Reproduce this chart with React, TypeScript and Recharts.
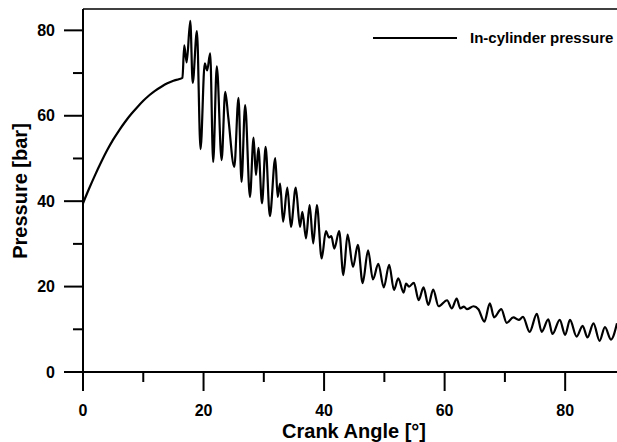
import React from 'react';
import { LineChart, Line, XAxis, YAxis, Legend, ReferenceLine, Label } from 'recharts';

const crankAngle = [
  0, 1, 2, 3, 4, 5, 6, 7, 8, 9, 10, 11, 12, 13, 14, 15, 16, 16.5,
  16.8, 17.2, 17.8, 18.2, 18.9, 19.5, 20.2, 20.6, 21.1, 21.6, 22.2, 23.0, 23.6, 24.1, 25.1, 25.8,
  26.3, 26.9, 27.7, 28.3, 28.7, 29.1, 29.7, 30.3, 31.0, 31.9, 32.3, 32.7, 33.2, 33.9, 34.5, 35.3,
  36.0, 36.4, 37.0, 37.6, 38.2, 38.8, 39.6, 40.3, 40.8, 41.2, 41.7, 42.5, 43.2, 43.9, 44.8, 45.6,
  46.4, 47.3, 48.1, 49.0, 49.9, 50.8, 51.6, 52.3, 53.2, 53.6, 54.1, 54.9, 55.7, 56.5, 57.3, 58.1,
  59.0, 60.4, 61.2, 62.0, 62.6, 63.2, 63.7, 64.8, 65.6, 66.6, 67.5, 68.2, 69.4, 70.3, 71.4, 72.3,
  73.0, 74.1, 75.3, 76.1, 77.2, 77.9, 79.1, 80.0, 80.8, 81.9, 82.9, 83.7, 84.7, 85.7, 86.6, 87.6, 88.6,
];

const pressure = [
  39.5, 42.9, 46.1, 49.1, 51.9, 54.4, 56.6, 58.6, 60.4, 62.0, 63.5, 64.8, 65.9, 66.8, 67.6, 68.2, 68.6, 68.9,
  76.5, 72.5, 82.2, 67.7, 79.8, 52.2, 72.3, 70.6, 74.6, 49.2, 71.6, 49.6, 65.6, 59.7, 48.0, 64.2,
  44.5, 62.5, 41.0, 54.9, 46.1, 52.5, 39.5, 52.7, 36.5, 50.1, 41.0, 44.1, 35.2, 43.2, 34.0, 43.2,
  34.0, 37.5, 31.3, 39.1, 30.1, 39.1, 26.6, 33.0, 31.5, 31.8, 28.9, 33.0, 22.7, 32.2, 24.6, 29.8,
  20.8, 28.5, 21.7, 25.3, 19.8, 25.1, 19.2, 21.9, 18.6, 20.7, 20.0, 20.9, 16.8, 19.8, 15.7, 19.3,
  15.4, 16.8, 14.9, 17.2, 14.9, 15.3, 14.7, 15.4, 14.7, 11.8, 16.1, 12.8, 14.7, 11.5, 12.8, 12.2,
  12.9, 9.4, 13.6, 9.4, 12.3, 8.9, 12.2, 8.7, 12.2, 8.3, 10.8, 8.1, 11.4, 7.3, 10.5, 7.6, 11.4,
];

const xTicks = [0, 10, 20, 30, 40, 50, 60, 70, 80];
const xMajor = [0, 20, 40, 60, 80];
const yTicks = [0, 10, 20, 30, 40, 50, 60, 70, 80];
const yMajor = [0, 20, 40, 60, 80];

const seriesName = 'In-cylinder pressure';
const xTitle = 'Crank Angle [°]';
const yTitle = 'Pressure [bar]';

const data = crankAngle.map((a, i) => ({ angle: a, p: pressure[i] }));

const FONT = '"Liberation Sans", Arial, Helvetica, sans-serif';

const XTick = (props: any) => {
  const { x, y, payload } = props;
  const major = xMajor.includes(payload.value);
  return (
    <g>
      <line x1={x} x2={x} y1={y} y2={y + (major ? 19 : 10)} stroke="#000" strokeWidth={2} />
      {major && (
        <text x={x} y={y + 38} textAnchor="middle" dominantBaseline="central" fontFamily={FONT} fontWeight="bold" fontSize={16} fill="#000">
          {payload.value}
        </text>
      )}
    </g>
  );
};

const YTick = (props: any) => {
  const { x, y, payload } = props;
  const major = yMajor.includes(payload.value);
  return (
    <g>
      <line x1={x} x2={x - (major ? 19 : 10)} y1={y} y2={y} stroke="#000" strokeWidth={2} />
      {major && (
        <text x={x - 28} y={y} textAnchor="end" dominantBaseline="central" fontFamily={FONT} fontWeight="bold" fontSize={16} fill="#000">
          {payload.value}
        </text>
      )}
    </g>
  );
};

const LegendContent = (props: any) => {
  const item = props.payload && props.payload[0];
  return (
    <div style={{ display: 'flex', alignItems: 'center', fontFamily: FONT, fontWeight: 'bold', fontSize: 15, color: '#000', whiteSpace: 'nowrap' }}>
      <span style={{ display: 'inline-block', width: 84, height: 2, background: item ? item.color : '#000' }} />
      <span style={{ marginLeft: 13 }}>{item ? item.value : seriesName}</span>
    </div>
  );
};

export default function App() {
  return (
    <div style={{ position: 'absolute', left: 0, top: 0 }}>
      <LineChart width={617} height={442} data={data} margin={{ top: 9, right: 0, bottom: 0, left: 0 }}>
        <XAxis
          dataKey="angle"
          type="number"
          domain={[0, 88.6]}
          allowDataOverflow
          ticks={xTicks}
          interval={0}
          tickSize={0}
          tickMargin={0}
          tick={<XTick />}
          tickLine={false}
          axisLine={{ stroke: '#000', strokeWidth: 2 }}
          height={70}
        >
          <Label
            content={(p: any) => {
              const vb = p.viewBox || { x: 83, y: 372, width: 534, height: 70 };
              return (
                <text x={vb.x + vb.width / 2 + 4} y={vb.y + 66} textAnchor="middle" fontFamily={FONT} fontWeight="bold" fontSize={20} fill="#000">
                  {xTitle}
                </text>
              );
            }}
          />
        </XAxis>
        <YAxis
          type="number"
          domain={[0, 85]}
          allowDataOverflow
          ticks={yTicks}
          interval={0}
          tickSize={0}
          tickMargin={0}
          tick={<YTick />}
          tickLine={false}
          axisLine={{ stroke: '#000', strokeWidth: 2 }}
          width={83}
        >
          <Label
            content={(p: any) => {
              const vb = p.viewBox || { x: 0, y: 9, width: 83, height: 363 };
              const cy = vb.y + vb.height / 2 + 0.5;
              return (
                <text x={27} y={cy} transform={`rotate(-90, 27, ${cy})`} textAnchor="middle" fontFamily={FONT} fontWeight="bold" fontSize={20} fill="#000">
                  {yTitle}
                </text>
              );
            }}
          />
        </YAxis>
        <ReferenceLine y={85} stroke="#000" strokeWidth={1.5} />
        <Legend
          layout="horizontal"
          verticalAlign="middle"
          align="center"
          content={<LegendContent />}
          wrapperStyle={{ top: 29, left: 373, width: 'auto' }}
        />
        <Line
          type="monotone"
          dataKey="p"
          name={seriesName}
          stroke="#000"
          strokeWidth={2.2}
          dot={false}
          activeDot={false}
          isAnimationActive={false}
        />
      </LineChart>
    </div>
  );
}
